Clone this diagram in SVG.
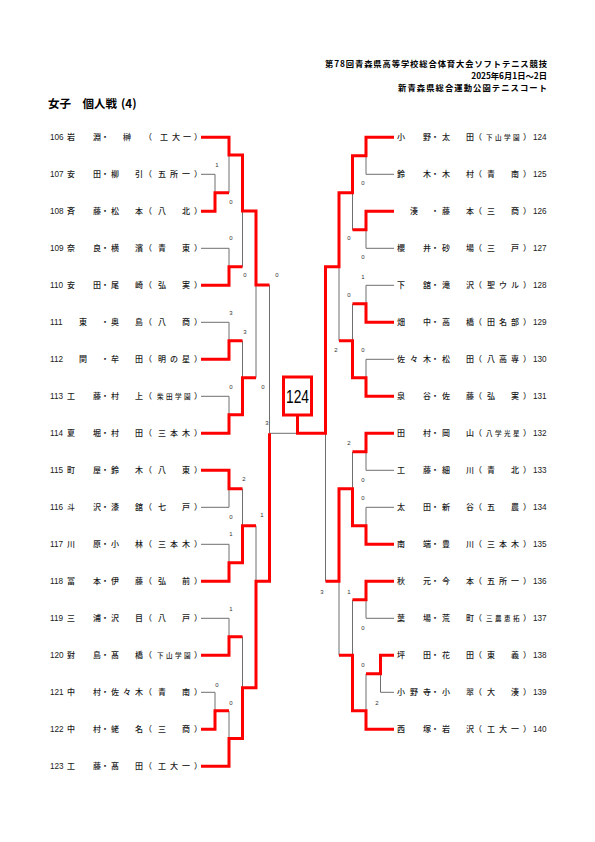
<svg xmlns="http://www.w3.org/2000/svg" width="595" height="842" viewBox="0 0 595 842">
<style>
.t{font-family:"Noto Sans CJK JP","Noto Sans",sans-serif;font-size:8px;font-weight:500;fill:#1a1a1a}
.sm{font-size:6.6px}
.n{font-family:"Liberation Sans",Arial,sans-serif;font-size:8.2px;fill:#1a1a1a}
.h{font-family:"Noto Sans CJK JP",sans-serif;font-size:8.3px;font-weight:bold;fill:#000}
.sc{font-family:"Liberation Sans",Arial,sans-serif;font-size:6px;fill:#333;text-anchor:middle}
.g{stroke:#6e6e6e;stroke-width:1;fill:none}
.r{stroke:#ff0000;stroke-width:3;fill:none;stroke-linejoin:miter}
.m{text-anchor:middle}
</style>
<rect width="595" height="842" fill="#fff"/>
<g id="header">
<text class="h" x="325" y="67" textLength="222">第78回青森県高等学校総合体育大会ソフトテニス競技</text>
<text class="h" x="547" y="79" text-anchor="end">2025年6月1日～2日</text>
<text class="h" x="398" y="91" textLength="149">新青森県総合運動公園テニスコート</text>
<text x="48" y="108" style="font-family:'Noto Sans CJK JP',sans-serif;font-size:11.5px;font-weight:bold">女子　個人戦</text>
<text x="121" y="108" style="font-family:'Noto Sans CJK JP',sans-serif;font-size:11.5px;font-weight:bold">(4)</text>
</g>
<g id="connectors">
<path class="g" d="M201 174.3H215V192.8M201 248.3H229V266.8M201 322.3H229V340.8M201 396.3H229V414.8M229 155V192.8M242.5 211V266.8M242.5 340.8V377.8M256 285V377.8M269.5 285V433.3H297.5"/>
<path class="g" d="M201 507.3H229V488.8M201 544.3H229V562.8M242.5 488.8V525.8M201 618.3H229V636.8M201 692.3H215V710.8M229 710.8V738.5M242.5 636.8V687.7M256 525.8V581.3"/>
<path class="g" d="M394 174.3H366V155.8M394 248.3H366V229.8M394 285.3H366V303.8M394 359.3H366V377.8M352.5 192.8V229.8M352.5 303.8V340.8M339 266.7V340.8M325.5 433.3V581.3"/>
<path class="g" d="M394 470.3H366V451.8M394 507.3H366V525.8M352.5 451.8V488.8M394 618.3H366V599.8M394 692.3H380.5V673.8M366 673.8V710.8M352.5 599.8V655.3M339 581.3V655.3"/>
<path class="r" d="M201 137.3H229V155H242.5V211H256V285H269.5"/>
<path class="r" d="M201 211.3H215V192.8H229"/>
<path class="r" d="M201 285.3H229V266.8H242.5"/>
<path class="r" d="M201 359.3H229V340.8H242.5"/>
<path class="r" d="M201 433.3H229V414.8H242.5V377.8H256"/>
<path class="r" d="M201 470.3H229V488.8H242.5"/>
<path class="r" d="M201 581.3H229V562.8H242.5V525.8H256"/>
<path class="r" d="M201 655.3H229V636.8H242.5"/>
<path class="r" d="M201 729.3H215V710.8H229"/>
<path class="r" d="M201 766.3H229V738.5H242.5V687.7H256V581.3H269.5V433.3"/>
<path class="r" d="M394 137.3H366V155.8H352.5V192.8H339V266.7H325.5V433.3H297.5V415"/>
<path class="r" d="M394 211.3H366V229.8H352.5"/>
<path class="r" d="M394 322.3H366V303.8H352.5"/>
<path class="r" d="M394 396.3H366V377.8H352.5V340.8H339"/>
<path class="r" d="M394 433.3H366V451.8H352.5"/>
<path class="r" d="M394 544.3H366V525.8H352.5V488.8H339V581.3H325.5"/>
<path class="r" d="M394 581.3H366V599.8H352.5"/>
<path class="r" d="M394 655.3H380.5V673.8H366"/>
<path class="r" d="M394 729.3H366V710.8H352.5V655.3H339"/>
</g>
<g id="scores">
<text class="sc" x="217" y="167">1</text>
<text class="sc" x="231" y="204">0</text>
<text class="sc" x="231" y="240">0</text>
<text class="sc" x="245" y="277">0</text>
<text class="sc" x="277" y="277">0</text>
<text class="sc" x="231" y="315">3</text>
<text class="sc" x="245" y="334">3</text>
<text class="sc" x="231" y="389">0</text>
<text class="sc" x="263" y="389">0</text>
<text class="sc" x="267" y="425">3</text>
<text class="sc" x="244" y="481">2</text>
<text class="sc" x="231" y="519">0</text>
<text class="sc" x="231" y="536">1</text>
<text class="sc" x="262" y="517">1</text>
<text class="sc" x="231" y="611">1</text>
<text class="sc" x="217" y="687">0</text>
<text class="sc" x="231" y="705">0</text>
<text class="sc" x="363" y="185">0</text>
<text class="sc" x="349" y="240">0</text>
<text class="sc" x="363" y="259">0</text>
<text class="sc" x="363" y="279">1</text>
<text class="sc" x="349" y="297">0</text>
<text class="sc" x="336" y="352">2</text>
<text class="sc" x="363" y="352">0</text>
<text class="sc" x="349" y="445">2</text>
<text class="sc" x="363" y="482">0</text>
<text class="sc" x="363" y="500">0</text>
<text class="sc" x="322" y="594">3</text>
<text class="sc" x="349" y="594">1</text>
<text class="sc" x="363" y="630">0</text>
<text class="sc" x="363" y="667">0</text>
<text class="sc" x="377" y="705">2</text>
</g>
<g id="champion">
<rect x="283.5" y="377" width="28" height="38" fill="#fff" stroke="#ff0000" stroke-width="3"/>
<text x="297.5" y="403" text-anchor="middle" textLength="23" lengthAdjust="spacingAndGlyphs" style="font-family:'Liberation Sans',Arial,sans-serif;font-size:18px;fill:#000">124</text>
</g>
<g id="p106"><text class="n" x="50" y="140.3">106</text><text class="t" x="67 93" y="140.3">岩淵</text><text class="t m" x="105" y="140.3">・</text><text class="t" x="123" y="140.3">榊</text><text class="t" x="144" y="140.3">（</text><text class="t" x="160 172 183" y="140.3">工大一</text><text class="t" x="194" y="140.3">）</text></g>
<g id="p107"><text class="n" x="50" y="177.3">107</text><text class="t" x="67 93" y="177.3">安田</text><text class="t m" x="105" y="177.3">・</text><text class="t" x="111 135" y="177.3">柳引</text><text class="t" x="144" y="177.3">（</text><text class="t" x="158 170 182" y="177.3">五所一</text><text class="t" x="194" y="177.3">）</text></g>
<g id="p108"><text class="n" x="50" y="214.3">108</text><text class="t" x="67 93" y="214.3">斉藤</text><text class="t m" x="105" y="214.3">・</text><text class="t" x="111 135" y="214.3">松本</text><text class="t" x="144" y="214.3">（</text><text class="t" x="158 182" y="214.3">八北</text><text class="t" x="194" y="214.3">）</text></g>
<g id="p109"><text class="n" x="50" y="251.3">109</text><text class="t" x="67 93" y="251.3">奈良</text><text class="t m" x="105" y="251.3">・</text><text class="t" x="111 135" y="251.3">横濱</text><text class="t" x="144" y="251.3">（</text><text class="t" x="158 182" y="251.3">青東</text><text class="t" x="194" y="251.3">）</text></g>
<g id="p110"><text class="n" x="50" y="288.3">110</text><text class="t" x="67 93" y="288.3">安田</text><text class="t m" x="105" y="288.3">・</text><text class="t" x="111 135" y="288.3">尾崎</text><text class="t" x="144" y="288.3">（</text><text class="t" x="158 182" y="288.3">弘実</text><text class="t" x="194" y="288.3">）</text></g>
<g id="p111"><text class="n" x="50" y="325.3">111</text><text class="t" x="79" y="325.3">東</text><text class="t m" x="105" y="325.3">・</text><text class="t" x="111 135" y="325.3">奥島</text><text class="t" x="144" y="325.3">（</text><text class="t" x="158 182" y="325.3">八商</text><text class="t" x="194" y="325.3">）</text></g>
<g id="p112"><text class="n" x="50" y="362.3">112</text><text class="t" x="79" y="362.3">関</text><text class="t m" x="105" y="362.3">・</text><text class="t" x="111 135" y="362.3">牟田</text><text class="t" x="144" y="362.3">（</text><text class="t" x="158 170 182" y="362.3">明の星</text><text class="t" x="194" y="362.3">）</text></g>
<g id="p113"><text class="n" x="50" y="399.3">113</text><text class="t" x="67 93" y="399.3">工藤</text><text class="t m" x="105" y="399.3">・</text><text class="t" x="111 135" y="399.3">村上</text><text class="t" x="144" y="399.3">（</text><text class="t sm" x="157 166 175 184" y="399.3">柴田学園</text><text class="t" x="194" y="399.3">）</text></g>
<g id="p114"><text class="n" x="50" y="436.3">114</text><text class="t" x="67 93" y="436.3">夏堀</text><text class="t m" x="105" y="436.3">・</text><text class="t" x="111 135" y="436.3">村田</text><text class="t" x="144" y="436.3">（</text><text class="t" x="158 170 182" y="436.3">三本木</text><text class="t" x="194" y="436.3">）</text></g>
<g id="p115"><text class="n" x="50" y="473.3">115</text><text class="t" x="67 93" y="473.3">町屋</text><text class="t m" x="105" y="473.3">・</text><text class="t" x="111 135" y="473.3">鈴木</text><text class="t" x="144" y="473.3">（</text><text class="t" x="158 182" y="473.3">八東</text><text class="t" x="194" y="473.3">）</text></g>
<g id="p116"><text class="n" x="50" y="510.3">116</text><text class="t" x="67 93" y="510.3">斗沢</text><text class="t m" x="105" y="510.3">・</text><text class="t" x="111 135" y="510.3">漆舘</text><text class="t" x="144" y="510.3">（</text><text class="t" x="158 182" y="510.3">七戸</text><text class="t" x="194" y="510.3">）</text></g>
<g id="p117"><text class="n" x="50" y="547.3">117</text><text class="t" x="67 93" y="547.3">川原</text><text class="t m" x="105" y="547.3">・</text><text class="t" x="111 135" y="547.3">小林</text><text class="t" x="144" y="547.3">（</text><text class="t" x="158 170 182" y="547.3">三本木</text><text class="t" x="194" y="547.3">）</text></g>
<g id="p118"><text class="n" x="50" y="584.3">118</text><text class="t" x="67 93" y="584.3">冨本</text><text class="t m" x="105" y="584.3">・</text><text class="t" x="111 135" y="584.3">伊藤</text><text class="t" x="144" y="584.3">（</text><text class="t" x="158 182" y="584.3">弘前</text><text class="t" x="194" y="584.3">）</text></g>
<g id="p119"><text class="n" x="50" y="621.3">119</text><text class="t" x="67 93" y="621.3">三浦</text><text class="t m" x="105" y="621.3">・</text><text class="t" x="111 135" y="621.3">沢目</text><text class="t" x="144" y="621.3">（</text><text class="t" x="158 182" y="621.3">八戸</text><text class="t" x="194" y="621.3">）</text></g>
<g id="p120"><text class="n" x="50" y="658.3">120</text><text class="t" x="67 93" y="658.3">對島</text><text class="t m" x="105" y="658.3">・</text><text class="t" x="111 135" y="658.3">髙橋</text><text class="t" x="144" y="658.3">（</text><text class="t sm" x="157 166 175 184" y="658.3">下山学園</text><text class="t" x="194" y="658.3">）</text></g>
<g id="p121"><text class="n" x="50" y="695.3">121</text><text class="t" x="67 93" y="695.3">中村</text><text class="t m" x="105" y="695.3">・</text><text class="t" x="111 123 135" y="695.3">佐々木</text><text class="t" x="144" y="695.3">（</text><text class="t" x="158 182" y="695.3">青南</text><text class="t" x="194" y="695.3">）</text></g>
<g id="p122"><text class="n" x="50" y="732.3">122</text><text class="t" x="67 93" y="732.3">中村</text><text class="t m" x="105" y="732.3">・</text><text class="t" x="111 135" y="732.3">蛯名</text><text class="t" x="144" y="732.3">（</text><text class="t" x="158 182" y="732.3">三商</text><text class="t" x="194" y="732.3">）</text></g>
<g id="p123"><text class="n" x="50" y="769.3">123</text><text class="t" x="67 93" y="769.3">工藤</text><text class="t m" x="105" y="769.3">・</text><text class="t" x="111 135" y="769.3">髙田</text><text class="t" x="144" y="769.3">（</text><text class="t" x="158 170 182" y="769.3">工大一</text><text class="t" x="194" y="769.3">）</text></g>
<g id="p124"><text class="t" x="397 423" y="140.3">小野</text><text class="t m" x="435" y="140.3">・</text><text class="t" x="442 466" y="140.3">太田</text><text class="t" x="474" y="140.3">（</text><text class="t sm" x="486 495 504 513" y="140.3">下山学園</text><text class="t" x="523" y="140.3">）</text><text class="n" x="533" y="140.3">124</text></g>
<g id="p125"><text class="t" x="397 423" y="177.3">鈴木</text><text class="t m" x="435" y="177.3">・</text><text class="t" x="442 466" y="177.3">木村</text><text class="t" x="474" y="177.3">（</text><text class="t" x="487 511" y="177.3">青南</text><text class="t" x="523" y="177.3">）</text><text class="n" x="533" y="177.3">125</text></g>
<g id="p126"><text class="t" x="410" y="214.3">湊</text><text class="t m" x="435" y="214.3">・</text><text class="t" x="442 466" y="214.3">藤本</text><text class="t" x="474" y="214.3">（</text><text class="t" x="487 511" y="214.3">三商</text><text class="t" x="523" y="214.3">）</text><text class="n" x="533" y="214.3">126</text></g>
<g id="p127"><text class="t" x="397 423" y="251.3">櫻井</text><text class="t m" x="435" y="251.3">・</text><text class="t" x="442 466" y="251.3">砂場</text><text class="t" x="474" y="251.3">（</text><text class="t" x="487 511" y="251.3">三戸</text><text class="t" x="523" y="251.3">）</text><text class="n" x="533" y="251.3">127</text></g>
<g id="p128"><text class="t" x="397 423" y="288.3">下舘</text><text class="t m" x="435" y="288.3">・</text><text class="t" x="442 466" y="288.3">滝沢</text><text class="t" x="474" y="288.3">（</text><text class="t" x="487 499 511" y="288.3">聖ウル</text><text class="t" x="523" y="288.3">）</text><text class="n" x="533" y="288.3">128</text></g>
<g id="p129"><text class="t" x="397 423" y="325.3">畑中</text><text class="t m" x="435" y="325.3">・</text><text class="t" x="442 466" y="325.3">高橋</text><text class="t" x="474" y="325.3">（</text><text class="t" x="487 499 511" y="325.3">田名部</text><text class="t" x="523" y="325.3">）</text><text class="n" x="533" y="325.3">129</text></g>
<g id="p130"><text class="t" x="397 410 423" y="362.3">佐々木</text><text class="t m" x="435" y="362.3">・</text><text class="t" x="442 466" y="362.3">松田</text><text class="t" x="474" y="362.3">（</text><text class="t" x="487 499 511" y="362.3">八高専</text><text class="t" x="523" y="362.3">）</text><text class="n" x="533" y="362.3">130</text></g>
<g id="p131"><text class="t" x="397 423" y="399.3">泉谷</text><text class="t m" x="435" y="399.3">・</text><text class="t" x="442 466" y="399.3">佐藤</text><text class="t" x="474" y="399.3">（</text><text class="t" x="487 511" y="399.3">弘実</text><text class="t" x="523" y="399.3">）</text><text class="n" x="533" y="399.3">131</text></g>
<g id="p132"><text class="t" x="397 423" y="436.3">田村</text><text class="t m" x="435" y="436.3">・</text><text class="t" x="442 466" y="436.3">岡山</text><text class="t" x="474" y="436.3">（</text><text class="t sm" x="486 495 504 513" y="436.3">八学光星</text><text class="t" x="523" y="436.3">）</text><text class="n" x="533" y="436.3">132</text></g>
<g id="p133"><text class="t" x="397 423" y="473.3">工藤</text><text class="t m" x="435" y="473.3">・</text><text class="t" x="442 466" y="473.3">細川</text><text class="t" x="474" y="473.3">（</text><text class="t" x="487 511" y="473.3">青北</text><text class="t" x="523" y="473.3">）</text><text class="n" x="533" y="473.3">133</text></g>
<g id="p134"><text class="t" x="397 423" y="510.3">太田</text><text class="t m" x="435" y="510.3">・</text><text class="t" x="442 466" y="510.3">新谷</text><text class="t" x="474" y="510.3">（</text><text class="t" x="487 511" y="510.3">五農</text><text class="t" x="523" y="510.3">）</text><text class="n" x="533" y="510.3">134</text></g>
<g id="p135"><text class="t" x="397 423" y="547.3">南端</text><text class="t m" x="435" y="547.3">・</text><text class="t" x="442 466" y="547.3">豊川</text><text class="t" x="474" y="547.3">（</text><text class="t" x="487 499 511" y="547.3">三本木</text><text class="t" x="523" y="547.3">）</text><text class="n" x="533" y="547.3">135</text></g>
<g id="p136"><text class="t" x="397 423" y="584.3">秋元</text><text class="t m" x="435" y="584.3">・</text><text class="t" x="442 466" y="584.3">今本</text><text class="t" x="474" y="584.3">（</text><text class="t" x="487 499 511" y="584.3">五所一</text><text class="t" x="523" y="584.3">）</text><text class="n" x="533" y="584.3">136</text></g>
<g id="p137"><text class="t" x="397 423" y="621.3">葉場</text><text class="t m" x="435" y="621.3">・</text><text class="t" x="442 466" y="621.3">荒町</text><text class="t" x="474" y="621.3">（</text><text class="t sm" x="486 495 504 513" y="621.3">三農恵拓</text><text class="t" x="523" y="621.3">）</text><text class="n" x="533" y="621.3">137</text></g>
<g id="p138"><text class="t" x="397 423" y="658.3">坪田</text><text class="t m" x="435" y="658.3">・</text><text class="t" x="442 466" y="658.3">花田</text><text class="t" x="474" y="658.3">（</text><text class="t" x="487 511" y="658.3">東義</text><text class="t" x="523" y="658.3">）</text><text class="n" x="533" y="658.3">138</text></g>
<g id="p139"><text class="t" x="397 410 423" y="695.3">小野寺</text><text class="t m" x="435" y="695.3">・</text><text class="t" x="442 466" y="695.3">小翠</text><text class="t" x="474" y="695.3">（</text><text class="t" x="487 511" y="695.3">大湊</text><text class="t" x="523" y="695.3">）</text><text class="n" x="533" y="695.3">139</text></g>
<g id="p140"><text class="t" x="397 423" y="732.3">西塚</text><text class="t m" x="435" y="732.3">・</text><text class="t" x="442 466" y="732.3">岩沢</text><text class="t" x="474" y="732.3">（</text><text class="t" x="487 499 511" y="732.3">工大一</text><text class="t" x="523" y="732.3">）</text><text class="n" x="533" y="732.3">140</text></g>
</svg>
